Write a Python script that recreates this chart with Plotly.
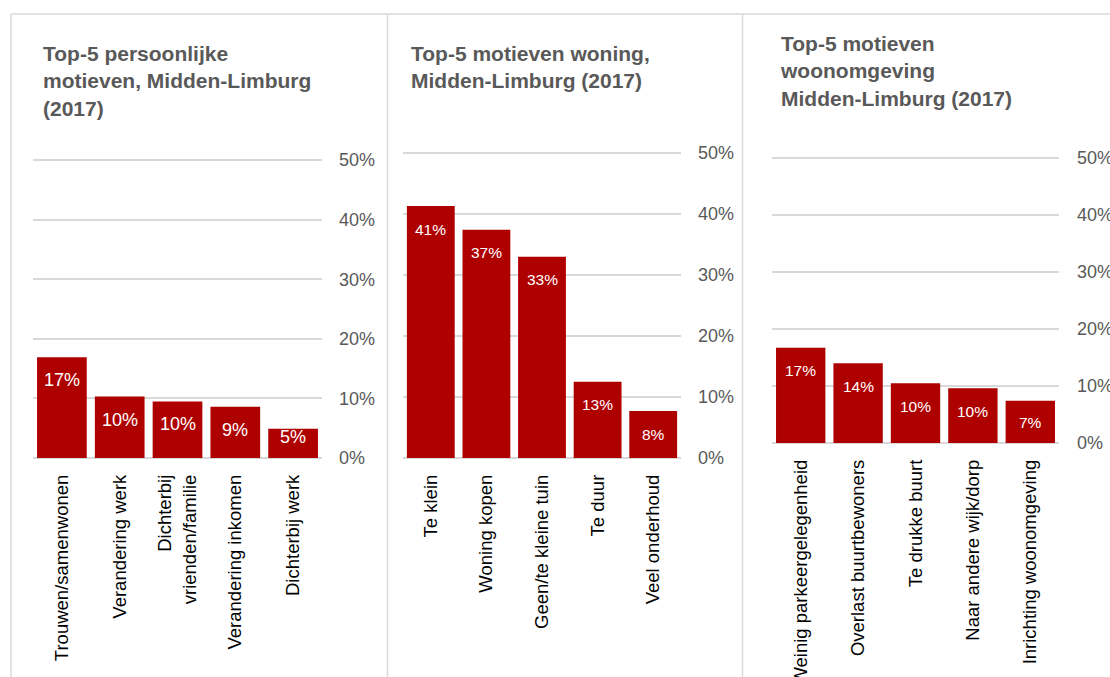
import plotly.graph_objects as go

# ---- data ----
cats1 = ["Trouwen/samenwonen", "Verandering werk", "Dichterbij<br>vrienden/familie",
         "Verandering inkomen", "Dichterbij werk"]
vals1 = [16.9, 10.3, 9.5, 8.6, 4.9]
labels1 = ["17%", "10%", "10%", "9%", "5%"]

cats2 = ["Te klein", "Woning kopen", "Geen/te kleine tuin", "Te duur", "Veel onderhoud"]
vals2 = [41.3, 37.4, 33.0, 12.5, 7.7]
labels2 = ["41%", "37%", "33%", "13%", "8%"]

cats3 = ["Weinig parkeergelegenheid", "Overlast buurtbewoners", "Te drukke buurt",
         "Naar andere wijk/dorp", "Inrichting woonomgeving"]
vals3 = [16.7, 14.0, 10.5, 9.6, 7.4]
labels3 = ["17%", "14%", "10%", "10%", "7%"]

titles = ["Top-5 persoonlijke<br>motieven, Midden-Limburg<br>(2017)",
          "Top-5 motieven woning,<br>Midden-Limburg (2017)",
          "Top-5 motieven<br>woonomgeving<br>Midden-Limburg (2017)"]

tick_vals = [0, 10, 20, 30, 40, 50]
tick_text = ["0%", "10%", "20%", "30%", "40%", "50%"]

# ---- style ----
W, H = 1110, 677
BAR = "#AF0000"
GRID = "#D9D9D9"
GREY = "#595959"
FONT = "Liberation Sans, Arial, sans-serif"
YMAX = 50.4

panels = [
    dict(cats=cats1, vals=vals1, labels=labels1, x=(33, 322), y0=458, y50=160, lab_size=18, stand=16),
    dict(cats=cats2, vals=vals2, labels=labels2, x=(403, 681), y0=458, y50=153, lab_size=15.5, stand=16),
    dict(cats=cats3, vals=vals3, labels=labels3, x=(772, 1059), y0=443, y50=158, lab_size=15.5, stand=17),
]
title_pos = [(41, 40), (409, 40), (778, 30)]

fig = go.Figure()
annotations = []
layout_axes = {}

for i, p in enumerate(panels):
    n = "" if i == 0 else str(i + 1)
    xa, ya = "x" + n, "y" + n
    fig.add_trace(go.Bar(x=p["cats"], y=p["vals"], marker=dict(color=BAR, line=dict(width=0)),
                         xaxis=xa, yaxis=ya, showlegend=False, hoverinfo="skip"))
    pxper = (p["y0"] - p["y50"]) / 50.0
    ytop = p["y0"] - pxper * YMAX
    layout_axes["xaxis" + n] = dict(
        domain=[p["x"][0] / W, p["x"][1] / W], anchor=ya, automargin=False,
        tickangle=-90, tickfont=dict(size=18.5, color="#000000", family=FONT),
        showgrid=False, showline=False, zeroline=False, ticks="",
        ticklabelstandoff=12, fixedrange=True,
    )
    layout_axes["yaxis" + n] = dict(
        domain=[(H - p["y0"]) / H, (H - ytop) / H], anchor=xa, side="right", automargin=False,
        range=[0, YMAX], tickvals=tick_vals, ticktext=tick_text,
        tickfont=dict(size=18, color=GREY, family=FONT),
        showgrid=True, gridcolor=GRID, gridwidth=1.5,
        zeroline=True, zerolinecolor=GRID, zerolinewidth=1.8,
        showline=False, ticks="", ticklabelstandoff=p["stand"], fixedrange=True,
    )
    for c, v, t in zip(p["cats"], p["vals"], p["labels"]):
        # label sits near the top of the bar, kept inside short bars
        shift = min(23.0, v * pxper - 20.5)
        annotations.append(dict(x=c, y=v, xref=xa, yref=ya, text=t, showarrow=False,
                                yanchor="middle", yshift=-shift,
                                font=dict(size=p["lab_size"], color="#FFFFFF", family=FONT)))
    tx, ty = title_pos[i]
    annotations.append(dict(x=tx / W, y=(H - ty) / H, xref="paper", yref="paper",
                            xanchor="left", yanchor="top", align="left", showarrow=False,
                            text="<b>" + titles[i] + "</b>",
                            font=dict(size=21, color=GREY, family=FONT)))

shapes = [
    dict(type="line", xref="paper", yref="paper", x0=11 / W, x1=1, y0=(H - 14) / H, y1=(H - 14) / H,
         line=dict(color=GRID, width=1.5)),
]
for xv in (11, 387.5, 742.5):
    shapes.append(dict(type="line", xref="paper", yref="paper", x0=xv / W, x1=xv / W,
                       y0=0, y1=(H - 14) / H, line=dict(color=GRID, width=1.5)))

fig.update_layout(
    width=W, height=H, margin=dict(l=0, r=0, t=0, b=0, autoexpand=False),
    paper_bgcolor="white", plot_bgcolor="white",
    bargap=0.14, annotations=annotations, shapes=shapes,
    font=dict(family=FONT), **layout_axes,
)

fig.write_html("out.html", config={"displayModeBar": False},
               post_script="document.body.style.margin='0';document.body.style.overflow='hidden';")
